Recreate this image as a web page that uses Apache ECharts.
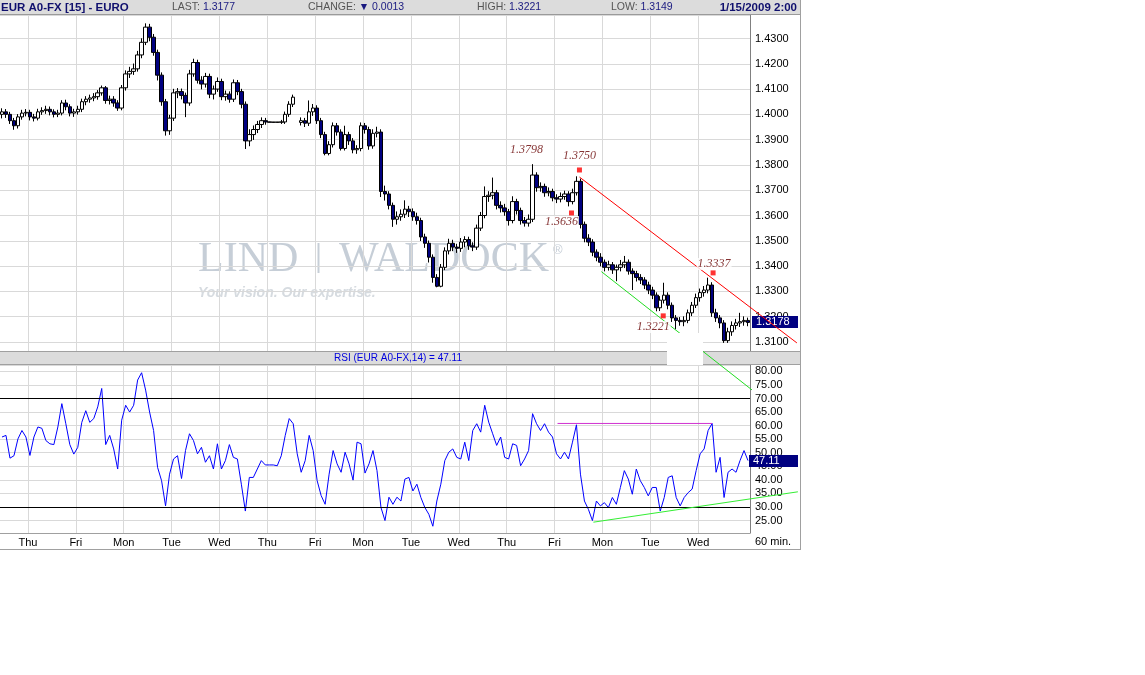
<!DOCTYPE html>
<html><head><meta charset="utf-8">
<script src="https://cdn.jsdelivr.net/npm/echarts@6/dist/echarts.min.js"></script>
<style>html,body{margin:0;padding:0;background:#fff}#c{width:1145px;height:675px}</style>
</head><body><div id="c"></div>
<script>
// ---------- data ----------
const dayDates = ['12/24','12/25','12/26','12/29','12/30','12/31','1/1','1/2','1/5','1/6','1/7','1/8','1/9','1/12','1/13','1/14','1/15'];
const dayNames = ['Wed','Thu','Fri','Mon','Tue','Wed','Thu','Fri','Mon','Tue','Wed','Thu','Fri','Mon','Tue','Wed','Thu'];
// 2-hour bars: [open, close, low, high]
const priceBars = [
[1.4000,1.4010,1.3984,1.4024],[1.4010,1.4000,1.3986,1.4021],[1.4000,1.3975,1.3962,1.4010],[1.3975,1.3955,1.3939,1.3986],
[1.3955,1.3990,1.3944,1.4001],[1.3990,1.4005,1.3979,1.4018],[1.4005,1.4008,1.3992,1.4021],[1.4008,1.3990,1.3976,1.4018],
[1.3990,1.3985,1.3972,1.4002],[1.3985,1.4010,1.3976,1.4022],[1.4010,1.4015,1.3998,1.4028],[1.4015,1.4020,1.4002,1.4034],
[1.4020,1.4010,1.3996,1.4031],[1.4010,1.4000,1.3988,1.4020],[1.4000,1.4005,1.3989,1.4018],[1.4005,1.4045,1.3996,1.4056],
[1.4045,1.4030,1.4016,1.4058],[1.4030,1.4005,1.3992,1.4040],[1.4005,1.4010,1.3990,1.4022],[1.4010,1.4020,1.3999,1.4034],
[1.4020,1.4050,1.4009,1.4062],[1.4050,1.4060,1.4036,1.4072],[1.4060,1.4065,1.4046,1.4078],[1.4065,1.4070,1.4052,1.4084],
[1.4070,1.4085,1.4058,1.4096],[1.4085,1.4105,1.4074,1.4114],[1.4105,1.4055,1.4042,1.4112],[1.4055,1.4060,1.4039,1.4074],
[1.4060,1.4045,1.4030,1.4072],[1.4045,1.4025,1.4014,1.4056],[1.4025,1.4105,1.4016,1.4116],[1.4105,1.4160,1.4094,1.4174],
[1.4160,1.4170,1.4144,1.4188],[1.4170,1.4180,1.4156,1.4201],[1.4180,1.4235,1.4169,1.4251],[1.4235,1.4285,1.4222,1.4301],
[1.4285,1.4345,1.4274,1.4360],[1.4345,1.4305,1.4289,1.4358],[1.4305,1.4245,1.4232,1.4318],[1.4245,1.4155,1.4134,1.4256],
[1.4155,1.4050,1.4034,1.4166],[1.4050,1.3935,1.3916,1.4061],[1.3935,1.3985,1.3919,1.3998],[1.3985,1.4085,1.3974,1.4101],
[1.4085,1.4090,1.4064,1.4104],[1.4090,1.4075,1.4059,1.4102],[1.4075,1.4045,1.3989,1.4086],[1.4045,1.4160,1.4034,1.4176],
[1.4160,1.4205,1.4149,1.4220],[1.4205,1.4135,1.4122,1.4216],[1.4135,1.4120,1.4099,1.4151],[1.4120,1.4150,1.4106,1.4164],
[1.4150,1.4080,1.4064,1.4161],[1.4080,1.4100,1.4059,1.4114],[1.4100,1.4130,1.4089,1.4146],[1.4130,1.4070,1.4056,1.4141],
[1.4070,1.4080,1.4054,1.4094],[1.4080,1.4060,1.4046,1.4091],[1.4060,1.4125,1.4049,1.4138],[1.4125,1.4090,1.4076,1.4136],
[1.4090,1.4040,1.4024,1.4101],[1.4040,1.3895,1.3863,1.4051],[1.3895,1.3920,1.3874,1.3941],[1.3920,1.3940,1.3899,1.3956],
[1.3940,1.3960,1.3926,1.3974],[1.3960,1.3975,1.3946,1.3988],[1.3975,1.3970,1.3959,1.3986],[1.3970,1.3969,1.3968,1.3971],
[1.3969,1.3969,1.3968,1.3970],[1.3969,1.3969,1.3968,1.3970],[1.3969,1.3970,1.3962,1.3978],[1.3970,1.4000,1.3962,1.4011],
[1.4000,1.4040,1.3990,1.4052],[1.4040,1.4068,1.4029,1.4078],'-',[1.3968,1.3975,1.3956,1.3988],
[1.3975,1.3965,1.3950,1.3986],[1.3965,1.4010,1.3954,1.4055],[1.4010,1.4025,1.3994,1.4041],[1.4025,1.3975,1.3962,1.4036],
[1.3975,1.3920,1.3906,1.3986],[1.3920,1.3845,1.3838,1.3931],[1.3845,1.3880,1.3838,1.3894],[1.3880,1.3955,1.3869,1.3968],
[1.3955,1.3930,1.3916,1.3966],[1.3930,1.3865,1.3857,1.3941],[1.3865,1.3920,1.3857,1.3955],[1.3920,1.3895,1.3879,1.3931],
[1.3895,1.3860,1.3846,1.3906],[1.3860,1.3865,1.3844,1.3878],[1.3865,1.3955,1.3854,1.3968],[1.3955,1.3940,1.3924,1.3966],
[1.3940,1.3875,1.3860,1.3951],[1.3875,1.3925,1.3864,1.3941],[1.3925,1.3930,1.3909,1.3951],[1.3930,1.3695,1.3673,1.3941],
[1.3695,1.3685,1.3659,1.3718],[1.3685,1.3640,1.3624,1.3696],[1.3640,1.3585,1.3555,1.3651],[1.3585,1.3595,1.3564,1.3616],
[1.3595,1.3605,1.3579,1.3624],[1.3605,1.3625,1.3590,1.3660],[1.3625,1.3615,1.3594,1.3638],[1.3615,1.3595,1.3579,1.3628],
[1.3595,1.3580,1.3564,1.3611],[1.3580,1.3515,1.3499,1.3591],[1.3515,1.3490,1.3472,1.3528],[1.3490,1.3435,1.3414,1.3501],
[1.3435,1.3355,1.3334,1.3446],[1.3355,1.3320,1.3316,1.3368],[1.3320,1.3395,1.3316,1.3408],[1.3395,1.3460,1.3384,1.3474],
[1.3460,1.3490,1.3446,1.3508],[1.3490,1.3475,1.3459,1.3504],[1.3475,1.3470,1.3452,1.3488],[1.3470,1.3495,1.3456,1.3511],
[1.3495,1.3505,1.3474,1.3518],[1.3505,1.3480,1.3464,1.3516],[1.3480,1.3475,1.3459,1.3494],[1.3475,1.3550,1.3464,1.3564],
[1.3550,1.3600,1.3539,1.3614],[1.3600,1.3675,1.3589,1.3715],[1.3675,1.3680,1.3654,1.3696],[1.3680,1.3690,1.3664,1.3750],
[1.3690,1.3640,1.3624,1.3701],[1.3640,1.3630,1.3612,1.3656],[1.3630,1.3615,1.3599,1.3646],[1.3615,1.3580,1.3560,1.3626],
[1.3580,1.3655,1.3569,1.3676],[1.3655,1.3620,1.3604,1.3666],[1.3620,1.3580,1.3564,1.3631],[1.3580,1.3570,1.3556,1.3594],
[1.3570,1.3585,1.3556,1.3604],[1.3585,1.3760,1.3574,1.3803],[1.3760,1.3710,1.3694,1.3771],[1.3710,1.3715,1.3694,1.3731],
[1.3715,1.3690,1.3674,1.3726],[1.3690,1.3695,1.3676,1.3711],[1.3695,1.3670,1.3656,1.3706],[1.3670,1.3665,1.3649,1.3684],
[1.3665,1.3675,1.3652,1.3691],[1.3675,1.3685,1.3662,1.3698],[1.3685,1.3655,1.3636,1.3696],[1.3655,1.3690,1.3644,1.3706],
[1.3690,1.3735,1.3679,1.3755],[1.3735,1.3565,1.3549,1.3746],[1.3565,1.3510,1.3494,1.3576],[1.3510,1.3495,1.3479,1.3526],
[1.3495,1.3455,1.3439,1.3506],[1.3455,1.3435,1.3419,1.3466],[1.3435,1.3415,1.3399,1.3451],[1.3415,1.3395,1.3379,1.3426],
[1.3395,1.3405,1.3382,1.3421],[1.3405,1.3385,1.3369,1.3416],[1.3385,1.3395,1.3340,1.3406],[1.3395,1.3405,1.3379,1.3424],
[1.3405,1.3415,1.3392,1.3440],[1.3415,1.3380,1.3366,1.3426],[1.3380,1.3370,1.3305,1.3391],[1.3370,1.3355,1.3339,1.3381],
[1.3355,1.3345,1.3329,1.3368],[1.3345,1.3325,1.3309,1.3356],[1.3325,1.3305,1.3289,1.3338],[1.3305,1.3285,1.3269,1.3318],
[1.3285,1.3235,1.3221,1.3296],[1.3235,1.3265,1.3222,1.3281],[1.3265,1.3285,1.3252,1.3334],[1.3285,1.3245,1.3229,1.3296],
[1.3245,1.3195,1.3179,1.3256],[1.3195,1.3185,1.3150,1.3206],[1.3185,1.3180,1.3164,1.3198],[1.3180,1.3185,1.3162,1.3201],
[1.3185,1.3215,1.3174,1.3228],[1.3215,1.3245,1.3202,1.3258],[1.3245,1.3275,1.3234,1.3291],[1.3275,1.3295,1.3259,1.3311],
[1.3295,1.3305,1.3279,1.3321],[1.3305,1.3325,1.3292,1.3354],[1.3325,1.3215,1.3199,1.3336],[1.3215,1.3195,1.3179,1.3231],
[1.3195,1.3175,1.3154,1.3206],[1.3175,1.3105,1.3096,1.3186],[1.3105,1.3140,1.3096,1.3156],[1.3140,1.3165,1.3124,1.3181],
[1.3165,1.3175,1.3149,1.3191],[1.3175,1.3180,1.3159,1.3215],[1.3180,1.3185,1.3164,1.3201],[1.3185,1.3177,1.3162,1.3196]
];
const rsiValues = [
55.8,56.4,48.0,48.9,55.1,58.2,55.8,49.0,55.8,59.5,59.0,54.5,53.3,53.0,59.5,68.1,60.7,53.0,49.5,52.0,
61.2,65.5,61.2,62.6,66.9,73.7,53.0,56.4,51.4,44.0,62.0,67.5,65.0,67.5,76.8,79.5,73.1,65.0,58.2,44.6,
39.7,30.4,42.1,47.7,48.9,40.5,50.8,57.0,54.5,49.6,52.0,46.5,48.9,44.0,53.3,44.0,47.1,53.0,48.3,47.7,
38.4,28.5,40.9,40.9,44.0,47.1,45.5,45.5,45.5,45.2,48.9,56.4,62.6,60.7,49.6,42.8,47.1,56.4,50.8,39.7,
34.2,31.0,42.1,50.8,45.9,42.8,50.2,45.9,39.9,53.9,53.3,42.5,45.9,50.8,43.4,29.8,25.0,33.6,31.0,33.6,
32.2,40.3,40.9,35.9,38.4,33.5,29.8,27.3,22.9,32.2,38.4,47.1,50.2,51.4,48.3,47.7,53.9,47.1,58.2,60.7,
57.6,67.5,61.3,57.0,52.7,55.8,48.3,47.7,53.3,52.7,45.2,47.7,50.8,64.4,60.7,58.2,60.7,57.6,55.8,49.6,
47.7,50.2,47.7,53.9,60.3,42.1,32.2,29.1,25.0,32.2,30.4,31.6,29.8,33.5,31.0,37.2,43.4,40.3,34.7,44.0,
39.7,37.2,34.1,37.2,37.2,28.5,33.5,40.9,41.5,33.5,30.4,33.5,35.3,36.6,43.4,49.6,51.4,58.2,60.8,42.8,
48.3,33.5,42.8,44.0,42.8,47.1,50.8,47.11
];
const rsiLevels = [70, 30];
// annotations, in [bar index, value]
const redTrend = [[144.75, 1.3752], [199.25, 1.3096]];
const greenTrend = [[150.25, 1.3378], [188, 1.2910]];
const pivotMarkers = [[144.75, 1.3780], [142.75, 1.3610], [165.75, 1.3203], [178.25, 1.3373]];
const pivotLabels = [['1.3798', 131.5, 1.3859], ['1.3750', 144.75, 1.3835], ['1.3636', 140.25, 1.3574], ['1.3221', 163.25, 1.3159], ['1.3337', 178.5, 1.3408]];
const rsiResistance = [[139.25, 60.8], [178, 60.8]];
const rsiSupport = [[148.25, 24.4], [199.5, 35.6]];
const headerTitle = 'EUR A0-FX [15] - EURO';
const headerFields = [['LAST: ', '1.3177', 172], ['CHANGE: ', '\u25BC 0.0013', 308], ['HIGH: ', '1.3221', 477], ['LOW: ', '1.3149', 611]];
const headerDate = '1/15/2009 2:00';
const rsiTitle = 'RSI (EUR A0-FX,14) = 47.11';
const priceTag = 1.3178, rsiTag = 47.11;

// ---------- chart ----------
const categories = priceBars.map((_, i) => {
  const d = Math.floor((i + 5) / 12), h = ((i + 5) % 12) * 2;
  return dayDates[d] + ' ' + String(h).padStart(2, '0') + ':00';
});
const N = priceBars.length;
const isDayStart = i => (i + 5) % 12 === 0 && i > 0 && i < N - 1;
const SANS = 'Liberation Sans, Arial, sans-serif';
const GRID = '#d9d9d9';
const chart = echarts.init(document.getElementById('c'));
const catAxis = (g, labels) => ({
  type: 'category', gridIndex: g, data: categories, boundaryGap: true,
  axisLine: { show: labels, onZero: false, lineStyle: { color: '#a0a0a0' } }, axisTick: { show: false },
  axisLabel: { show: labels, interval: (idx) => isDayStart(idx), formatter: (v, idx) => dayNames[Math.floor((idx + 5) / 12)],
    fontSize: 11, color: '#000', margin: 4, fontFamily: SANS, padding: [0, 4, 0, 0] },
  splitLine: { show: true, interval: (idx) => isDayStart(idx), lineStyle: { color: GRID } }
});
const valAxisX = g => ({ type: 'value', gridIndex: g, min: -0.5, max: N - 0.5, show: false, position: 'top' });
const valAxisY = (g, min, max, n, dec) => ({
  type: 'value', gridIndex: g, position: 'right', min: min, max: max, splitNumber: n,
  axisLine: { show: true, onZero: false, lineStyle: { color: '#808080' } }, axisTick: { show: false },
  axisLabel: { formatter: v => v.toFixed(dec), showMinLabel: false, showMaxLabel: false, fontSize: 11, color: '#000', margin: 5, fontFamily: SANS },
  splitLine: { lineStyle: { color: GRID } }
});
chart.setOption({
  animation: false,
  backgroundColor: '#fff',
  grid: [
    { left: -2, top: 15, width: 752, height: 336, containLabel: false },
    { left: -2, top: 365, width: 752, height: 168, containLabel: false }
  ],
  xAxis: [catAxis(0, false), catAxis(1, true), valAxisX(0), valAxisX(1)],
  yAxis: [valAxisY(0, 1.3064, 1.4393, 13, 4), valAxisY(1, 20.41, 82.35, 12, 2)],
  series: [
    { type: 'candlestick', xAxisIndex: 0, yAxisIndex: 0, data: priceBars, barWidth: 4, z: 3,
      itemStyle: { color: '#ffffff', color0: '#000080', borderColor: '#000', borderColor0: '#000', borderWidth: 1 } },
    { type: 'line', xAxisIndex: 1, yAxisIndex: 1, data: rsiValues, symbol: 'none', z: 3,
      lineStyle: { color: '#0000ff', width: 1 },
      markLine: { silent: true, symbol: 'none', label: { show: false }, lineStyle: { color: '#000', width: 1, type: 'solid' },
        data: rsiLevels.map(v => ({ yAxis: v })) } },
    { type: 'scatter', xAxisIndex: 2, yAxisIndex: 0, data: pivotMarkers, symbol: 'rect', symbolSize: 5, clip: false, z: 55,
      itemStyle: { color: '#ff0000' } },
    { type: 'scatter', xAxisIndex: 2, yAxisIndex: 0, clip: false, z: 60, symbolSize: 1, itemStyle: { color: 'rgba(0,0,0,0)' },
      data: pivotLabels.map(p => ({ name: p[0], value: [p[1], p[2]] })),
      label: { show: true, position: 'inside', formatter: '{b}', fontFamily: 'Liberation Serif, serif', fontStyle: 'italic',
        fontSize: 12, color: '#660000', backgroundColor: '#fff', padding: [0, 1] } }
  ]
});

const toPx = (pt, xi, yi) => chart.convertToPixel({ xAxisIndex: xi, yAxisIndex: yi }, pt);
const trendLine = (pts, xi, yi, color) => {
  const a = toPx(pts[0], xi, yi), b = toPx(pts[1], xi, yi);
  return { type: 'line', z: 50, shape: { x1: a[0], y1: a[1], x2: b[0], y2: b[1] }, style: { stroke: color, lineWidth: 1 } };
};
const py = chart.convertToPixel({ yAxisIndex: 0 }, priceTag);
const ry = chart.convertToPixel({ yAxisIndex: 1 }, rsiTag);
const g = [];
// header
g.push({ type: 'rect', z: 10, shape: { x: 0, y: 0, width: 800, height: 14 }, style: { fill: '#dcdcdc' } });
g.push({ type: 'line', z: 10, shape: { x1: 0, y1: 14.5, x2: 800, y2: 14.5 }, style: { stroke: '#9a9a9a', lineWidth: 1 } });
g.push({ type: 'text', z: 11, x: 1, y: 7.5, style: { text: headerTitle, fill: '#10106e', font: 'bold 11.5px ' + SANS, verticalAlign: 'middle' } });
headerFields.forEach(f => g.push({ type: 'text', z: 11, x: f[2], y: 7.5, style: {
  text: '{a|' + f[0] + '}{b|' + f[1] + '}', verticalAlign: 'middle',
  rich: { a: { fill: '#555555', fontSize: 10.5, fontFamily: SANS }, b: { fill: '#1a1a80', fontSize: 10.5, fontFamily: SANS } } } }));
g.push({ type: 'text', z: 11, x: 797, y: 7.5, style: { text: headerDate, fill: '#10106e', font: 'bold 11.5px ' + SANS, align: 'right', verticalAlign: 'middle' } });
// RSI header bar
g.push({ type: 'rect', z: 10, shape: { x: 0, y: 351, width: 800, height: 13 }, style: { fill: '#dcdcdc' } });
g.push({ type: 'line', z: 10, shape: { x1: 0, y1: 351.5, x2: 800, y2: 351.5 }, style: { stroke: '#a0a0a0', lineWidth: 1 } });
g.push({ type: 'line', z: 10, shape: { x1: 0, y1: 364.5, x2: 800, y2: 364.5 }, style: { stroke: '#a0a0a0', lineWidth: 1 } });
g.push({ type: 'text', z: 11, x: 398, y: 358, style: { text: rsiTitle, fill: '#0000dd', font: '10px ' + SANS, align: 'center', verticalAlign: 'middle' } });
// trend lines
g.push(trendLine(redTrend, 2, 0, '#ff0000'));
g.push(trendLine(greenTrend, 2, 0, '#22dd22'));
g.push(trendLine(rsiResistance, 3, 1, '#d030d0'));
g.push(trendLine(rsiSupport, 3, 1, '#33ee33'));
// white patch
g.push({ type: 'rect', z: 100, shape: { x: 667, y: 333, width: 36, height: 32 }, style: { fill: '#ffffff' } });
// borders
g.push({ type: 'line', z: 10, shape: { x1: 800.5, y1: 0, x2: 800.5, y2: 550 }, style: { stroke: '#a0a0a0', lineWidth: 1 } });
g.push({ type: 'line', z: 10, shape: { x1: 0, y1: 549.5, x2: 800, y2: 549.5 }, style: { stroke: '#a0a0a0', lineWidth: 1 } });
g.push({ type: 'text', z: 11, x: 755, y: 542, style: { text: '60 min.', fill: '#000', font: '11px ' + SANS, verticalAlign: 'middle' } });
// watermark
const WM = '#c6ced7';
g.push({ type: 'text', z: -1, x: 198, y: 260, style: { text: 'LIND', fill: WM, font: '42px Liberation Serif, serif', verticalAlign: 'middle' } });
g.push({ type: 'line', z: -1, shape: { x1: 318.5, y1: 243, x2: 318.5, y2: 273 }, style: { stroke: WM, lineWidth: 2 } });
g.push({ type: 'text', z: -1, x: 339, y: 260, style: { text: 'WALDOCK', fill: WM, font: '42px Liberation Serif, serif', verticalAlign: 'middle' } });
g.push({ type: 'text', z: -1, x: 553, y: 250, style: { text: '\u00AE', fill: WM, font: '13px ' + SANS, verticalAlign: 'middle' } });
g.push({ type: 'text', z: -1, x: 198, y: 293, style: { text: 'Your vision. Our expertise.', fill: '#d6dbe0', font: 'italic bold 14px ' + SANS, verticalAlign: 'middle' } });
// value tags
g.push({ type: 'rect', z: 30, shape: { x: 752, y: Math.round(py) - 6, width: 46, height: 12 }, style: { fill: '#000080' } });
g.push({ type: 'text', z: 31, x: 756, y: Math.round(py), style: { text: priceTag.toFixed(4), fill: '#fff', font: '11px ' + SANS, verticalAlign: 'middle' } });
g.push({ type: 'rect', z: 30, shape: { x: 749, y: Math.round(ry) - 6, width: 49, height: 12 }, style: { fill: '#000080' } });
g.push({ type: 'text', z: 31, x: 753, y: Math.round(ry), style: { text: rsiTag.toFixed(2), fill: '#fff', font: '11px ' + SANS, verticalAlign: 'middle' } });
chart.setOption({ graphic: { elements: g } });
</script>
</body></html>
